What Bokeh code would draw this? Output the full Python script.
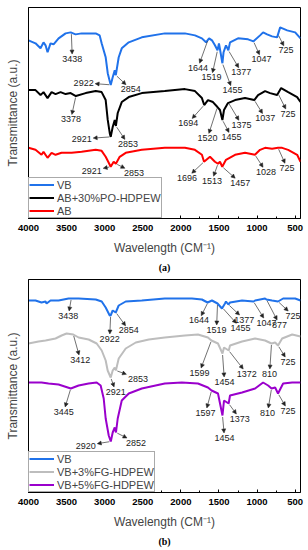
import numpy as np
from bokeh.plotting import figure
from bokeh.models import (Range1d, FixedTicker, Label, Arrow, NormalHead,
                          Legend, LegendItem, LinearAxis)
from bokeh.layouts import column
from bokeh.embed import file_html
from bokeh.resources import INLINE

# ---------------- data: panel (a) ----------------
a_vb_wn = [4000, 3908, 3842, 3803, 3776, 3750, 3711, 3671, 3605, 3513, 3447, 3382, 3303, 3118, 3066,
           3040, 2987, 2960, 2921, 2895, 2868, 2854, 2816, 2776, 2684, 2513, 2211, 1947, 1815, 1724,
           1670, 1630, 1592, 1553, 1519, 1500, 1455, 1440, 1408, 1377, 1355, 1250, 1118, 1047, 961,
           921, 868, 803, 737, 697, 605, 500, 430]
a_vb_t = [179, 176, 171, 177, 174, 167, 176, 175, 181, 186, 187, 185, 186, 186, 184,
          176, 162, 146, 134, 142, 149, 144, 162, 171, 177, 182, 186, 186, 184, 181,
          177, 181, 179, 174, 169, 176, 156, 167, 174, 169, 177, 181, 180, 178, 184,
          187, 185, 183, 182, 192, 189, 187, 181]

a_ab30_wn = [4000, 3908, 3842, 3803, 3750, 3697, 3645, 3579, 3513, 3447, 3378, 3250, 3118, 3040,
             2987, 2960, 2934, 2921, 2895, 2868, 2853, 2829, 2776, 2684, 2513, 2211, 1947, 1815,
             1724, 1694, 1645, 1579, 1520, 1487, 1455, 1434, 1382, 1289, 1158, 1037, 987, 895,
             829, 737, 684, 592, 474, 430]
a_ab30_t = [129, 129, 124, 127, 121, 127, 125, 127, 125, 126, 123, 126, 128, 127,
            119, 99, 86, 82, 92, 99, 93, 106, 117, 122, 126, 128, 130, 128,
            121, 114, 119, 117, 112, 109, 99, 109, 116, 119, 121, 119, 124, 128,
            126, 124, 131, 127, 122, 117]

a_ab_wn = [4000, 3908, 3829, 3803, 3750, 3697, 3645, 3566, 3434, 3303, 3118, 3040, 2987, 2947,
           2921, 2882, 2853, 2803, 2724, 2513, 2211, 1947, 1816, 1724, 1696, 1618, 1553, 1513,
           1487, 1457, 1408, 1289, 1158, 1028, 961, 895, 803, 725, 671, 592, 474, 430]
a_ab_t = [71, 69, 64, 67, 61, 66, 64, 66, 66, 67, 69, 68, 62, 56,
          52, 57, 55, 62, 66, 69, 71, 71, 69, 64, 57, 62, 57, 55,
          57, 52, 59, 64, 66, 64, 69, 71, 70, 71, 71, 69, 64, 57]

a_names = ["VB", "AB+30%PO-HDPEW", "AB"]

a_vb_peaks = [3438, 2922, 2854, 1644, 1519, 1455, 1377, 1047, 725]
a_ab30_peaks = [3378, 2921, 2853, 1694, 1520, 1455, 1375, 1037, 725]
a_ab_peaks = [2921, 2853, 1696, 1513, 1457, 1028, 725]

# ---------------- data: panel (b) ----------------
b_vb_wn = [4000, 3908, 3829, 3776, 3763, 3711, 3605, 3474, 3342, 3118, 3039, 2987, 2934, 2922,
           2895, 2855, 2816, 2724, 2513, 2211, 1855, 1724, 1650, 1592, 1519, 1461, 1421, 1408,
           1377, 1355, 1197, 1047, 1026, 895, 877, 803, 725, 658, 500, 430]
b_vb_t = [192, 192, 190, 191, 189, 192, 192, 194, 194, 193, 191, 185, 177, 177,
          182, 180, 187, 191, 192, 194, 194, 193, 190, 192, 189, 184, 189, 191,
          188, 190, 192, 191, 192, 194, 193, 192, 191, 194, 194, 192]

b_vb3_wn = [4000, 3868, 3776, 3645, 3566, 3500, 3412, 3342, 3211, 3105, 3039, 2987, 2961, 2921,
            2895, 2868, 2853, 2816, 2724, 2592, 2421, 2211, 1947, 1776, 1645, 1599, 1513, 1454,
            1434, 1372, 1355, 1197, 1026, 895, 810, 763, 725, 671, 539, 430]
b_vb3_t = [149, 151, 152, 154, 157, 159, 158, 155, 153, 149, 142, 132, 122, 115,
           122, 125, 122, 134, 144, 150, 153, 155, 157, 158, 155, 152, 149, 139,
           145, 142, 147, 151, 154, 152, 149, 150, 147, 154, 158, 156]

b_vb5_wn = [4000, 3829, 3737, 3605, 3445, 3342, 3211, 3105, 3053, 3013, 2987, 2947, 2920, 2895,
            2868, 2852, 2829, 2776, 2684, 2513, 2211, 1987, 1776, 1645, 1597, 1513, 1454, 1434,
            1373, 1355, 1197, 1026, 921, 855, 810, 763, 725, 658, 539, 430]
b_vb5_t = [110, 110, 109, 108, 104, 107, 109, 110, 107, 94, 74, 57, 51, 60,
           65, 60, 74, 92, 99, 104, 109, 110, 109, 105, 102, 99, 77, 92,
           89, 97, 100, 104, 110, 107, 104, 105, 99, 109, 110, 110]

b_names = ["VB", "VB+3%FG-HDPEW", "VB+5%FG-HDPEW"]

b_vb_peaks = [3438, 2922, 2854, 1644, 1519, 1455, 1377, 1047, 877, 725]
b_vb3_peaks = [3412, 2921, 2853, 1599, 1454, 1372, 810, 725]
b_vb5_peaks = [3445, 2920, 2852, 1597, 1454, 1373, 810, 725]

x_ticks = [4000, 3500, 3000, 2500, 2000, 1500, 1000, 500]
x_minor = [3750, 3250, 2750, 2250, 1750, 1250, 750]

X_TITLE = "Wavelength (CM\u207b\u00b9)"
Y_TITLE = "Transmittance (a.u.)"

# ---------------- layout / style (label offsets in screen px) ----------------
a_vb_off = [(1, 26), (-27, -2), (15, 14), (-10, 28), (-6, 27), (10, 27), (13, 22), (8, 18), (8, 16)]
a_ab30_off = [(-5, 23), (-29, 2), (12, 18), (-16, 18), (-10, 31), (9, 17), (13, 22), (11, 18), (10, 20)]
a_ab_off = [(-19, 4), (18, 9), (-17, 16), (-6, 17), (18, 16), (11, 17), (9, 20)]
b_vb_off = [(-3, 17), (-1, 23), (13, 18), (-9, 18), (-1, 26), (18, 20), (16, 15), (13, 21), (13, 25), (15, 14)]
b_vb3_off = [(7, 25), (5, 14), (22, 8), (-12, 32), (2, 28), (18, 23), (-2, 30), (10, 16)]
b_vb5_off = [(-7, 23), (-25, 4), (20, 10), (-6, 22), (2, 22), (11, 15), (-4, 24), (10, 17)]

X_START, X_END = 4000, 430
FRAME_W = 272
BORDER_L, BORDER_R = 28, 8
PPX = FRAME_W / (X_START - X_END)
FONT = "Liberation Sans"

C_BLUE = "#2072EA"
C_BLACK = "#000000"
C_RED = "#FF0000"
C_GRAY = "#BDBDBD"
C_PURPLE = "#9A00CC"


def annotate(p, wn, tr, peaks, offsets):
    xs = np.array(wn[::-1], float)
    ys = np.array(tr[::-1], float)
    for pk, (dx, dy) in zip(peaks, offsets):
        py = float(np.interp(pk, xs, ys))
        txt = str(pk)
        hw = 2.5 * len(txt) + 1.5
        hh = 4.5
        t = min(hw / abs(dx) if dx else 1e9, hh / abs(dy) if dy else 1e9)
        t = min(t, 0.85)
        ex, ey = dx * (1 - t), dy * (1 - t)
        d = float(np.hypot(dx, dy))
        gap = 1.5
        sx, sy = dx / d * gap, dy / d * gap
        p.add_layout(Arrow(end=NormalHead(size=4, fill_color="#222222", line_color="#222222", line_width=0.5),
                           x_start=pk - sx / PPX, y_start=py - sy,
                           x_end=pk - ex / PPX, y_end=py - ey,
                           line_color="#333333", line_width=0.7))
        p.add_layout(Label(x=pk, y=py, x_offset=dx, y_offset=-dy, text=txt,
                           text_align="center", text_baseline="middle",
                           text_font=FONT, text_font_size="9px", text_color="#222222"))


def make_panel(height, frame_h, top, series, tag):
    p = figure(width=BORDER_L + FRAME_W + BORDER_R, height=height,
               x_range=Range1d(X_START, X_END), y_range=Range1d(0, frame_h),
               output_backend="svg", toolbar_location=None,
               min_border_left=BORDER_L, min_border_right=BORDER_R, min_border_top=top,
               min_border_bottom=height - top - frame_h)
    p.grid.visible = False
    p.outline_line_color = "black"
    p.outline_line_width = 1
    p.background_fill_color = "white"
    p.border_fill_color = "white"

    xa = p.xaxis[0]
    xa.ticker = FixedTicker(ticks=x_ticks, minor_ticks=x_minor)
    xa.major_tick_in = 3
    xa.major_tick_out = 0
    xa.minor_tick_in = 2
    xa.minor_tick_out = 0
    xa.major_label_standoff = 6
    xa.major_label_text_font = FONT
    xa.major_label_text_font_style = "bold"
    xa.major_label_text_font_size = "9.5px"
    xa.major_label_text_color = "black"
    xa.axis_label = X_TITLE
    xa.axis_label_text_font = FONT
    xa.axis_label_text_font_style = "normal"
    xa.axis_label_text_font_size = "12px"
    xa.axis_label_standoff = 7
    xa.axis_line_color = "black"

    # panel tag "(a)" / "(b)" carried by a tick-less axis below the wavelength axis
    tag_axis = LinearAxis(ticker=FixedTicker(ticks=[]), bounds=(640, X_START),
                          axis_line_color=None, major_tick_line_color=None,
                          minor_tick_line_color=None, axis_label=tag,
                          axis_label_standoff=4, axis_label_text_font="Liberation Serif",
                          axis_label_text_font_style="bold", axis_label_text_font_size="10px",
                          axis_label_text_color="black")
    p.add_layout(tag_axis, "below")

    ya = p.yaxis[0]
    ya.ticker = FixedTicker(ticks=[])
    ya.major_tick_line_color = None
    ya.minor_tick_line_color = None
    ya.axis_label = Y_TITLE
    ya.axis_label_text_font = FONT
    ya.axis_label_text_font_style = "normal"
    ya.axis_label_text_font_size = "12px"
    ya.axis_label_standoff = 9
    ya.axis_line_color = "black"

    items = []
    for name, wn, tr, color, peaks, offs in series:
        r = p.line(wn, tr, line_color=color, line_width=2)
        items.append(LegendItem(label=name, renderers=[r]))
        annotate(p, wn, tr, peaks, offs)

    leg = Legend(items=items, location="bottom_left", margin=0, padding=0, spacing=0,
                 label_height=13, glyph_height=13, glyph_width=25, label_standoff=3,
                 label_text_font=FONT, label_text_font_size="11px",
                 border_line_color="#555555", border_line_width=1,
                 background_fill_color="white", background_fill_alpha=1)
    p.add_layout(leg)
    return p


p1 = make_panel(275, 212, 7, [
    (a_names[0], a_vb_wn, a_vb_t, C_BLUE, a_vb_peaks, a_vb_off),
    (a_names[1], a_ab30_wn, a_ab30_t, C_BLACK, a_ab30_peaks, a_ab30_off),
    (a_names[2], a_ab_wn, a_ab_t, C_RED, a_ab_peaks, a_ab_off),
], "(a)")

p2 = make_panel(275, 213, 4, [
    (b_names[0], b_vb_wn, b_vb_t, C_BLUE, b_vb_peaks, b_vb_off),
    (b_names[1], b_vb3_wn, b_vb3_t, C_GRAY, b_vb3_peaks, b_vb3_off),
    (b_names[2], b_vb5_wn, b_vb5_t, C_PURPLE, b_vb5_peaks, b_vb5_off),
], "(b)")

layout = column(p1, p2, spacing=0)
open("out.html", "w").write(file_html(layout, INLINE))
